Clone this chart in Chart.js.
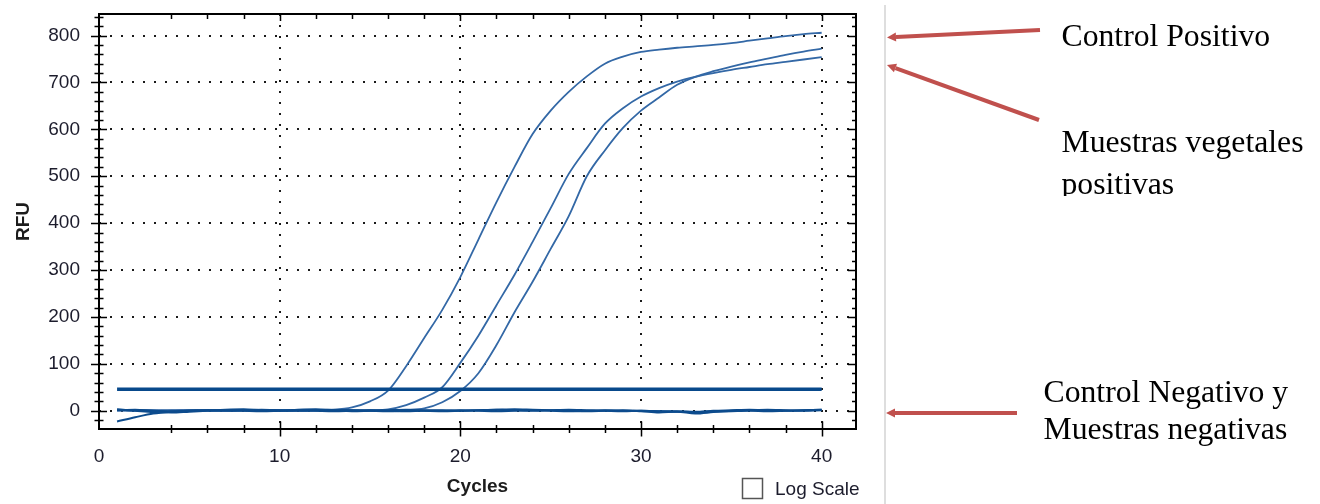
<!DOCTYPE html>
<html>
<head>
<meta charset="utf-8">
<script src="https://cdn.jsdelivr.net/npm/chart.js@4.4.1/dist/chart.umd.min.js"></script>
<style>
  html, body { margin: 0; padding: 0; background: #fff; }
  canvas { display: block; }
</style>
</head>
<body>
<canvas id="pcrChart" width="1320" height="504" style="width:1320px;height:504px"></canvas>
<script>
// amplification data (RFU per cycle)
const cycles = [1, 2, 3, 4, 5, 6, 7, 8, 9, 10, 11, 12, 13, 14, 15, 16, 17, 18, 19, 20,
                21, 22, 23, 24, 25, 26, 27, 28, 29, 30, 31, 32, 33, 34, 35, 36, 37, 38, 39, 40];

const positiveControl = [2, 1, 0, 0, 1, 1, 0, 1, 1, 0, 1, 1, 2, 7, 20, 43, 95, 155, 215, 285,
                         365, 445, 520, 590, 640, 680, 713, 740, 755, 765, 770, 774, 777, 780, 784, 789, 794, 799, 803, 806];
const sampleA = [1, 0, 0, 1, 1, 0, 1, 0, 1, 1, 0, 1, 1, 0, 1, 3, 12, 28, 50, 102,
                 160, 225, 290, 360, 432, 505, 560, 612, 645, 670, 688, 702, 712, 720, 727, 733, 739, 744, 749, 754];
const sampleB = [0, 1, 1, 0, 1, 1, 0, 1, 0, 1, 1, 0, 1, 1, 0, 1, 2, 5, 18, 42,
                 80, 140, 210, 275, 345, 415, 500, 555, 603, 640, 668, 695, 712, 724, 734, 743, 751, 759, 766, 772];
const negative1 = [-23, -14, -6, -2, 0, 1, 0, 1, 2, 1, 0, 1, 2, 1, 0, -1, 0, 1, 1, 0,
                   1, 2, 1, 0, 1, 2, 1, 0, -1, 0, -1, -2, -3, -2, -1, 0, -1, 0, 1, 2];
const negative2 = [3, 0, -3, -4, -2, 0, 2, 3, 1, 0, 2, 3, 1, -1, 0, 1, 2, 0, -1, 0,
                   1, 2, 3, 2, 1, 0, -1, 0, 1, -1, -4, -2, -6, -3, 0, 1, 2, 1, 0, 1];
const negative3 = [1, 2, 0, -1, 0, 1, 1, 0, -1, 0, 1, 0, -1, 0, 1, 0, -1, 0, 0, 1,
                   0, -1, 0, 1, 0, -1, 0, 1, 0, 0, -1, -1, -2, 0, 1, 2, 1, 0, 1, 2];
const threshold = 46;

const xLabels = [0, 10, 20, 30, 40];
const yLabels = [0, 100, 200, 300, 400, 500, 600, 700, 800];

const toPoints = vals => cycles.map((c, i) => ({ x: c, y: vals[i] }));

const curveColor = '#3368a6';
const baseColor = '#0c4b8d';

// frame, minor ticks, arrows and side notes
const overlay = {
    id: 'overlay',
    afterDraw(chart) {
        const { ctx, chartArea: a, scales: { x, y } } = chart;
        ctx.save();

        ctx.strokeStyle = '#000';
        ctx.lineWidth = 2;
        ctx.strokeRect(a.left, a.top, a.right - a.left, a.bottom - a.top);

        ctx.lineWidth = 1.5;
        ctx.beginPath();
        for (let v = -20; v <= 840; v += 20) {
            const py = Math.round(y.getPixelForValue(v)) + 0.5;
            const major = v % 100 === 0;
            const l = major ? 8 : 4.5;
            ctx.moveTo(a.left - l, py); ctx.lineTo(a.left + l, py);
            ctx.moveTo(a.right, py); ctx.lineTo(a.right - (major ? 8 : 4), py);
        }
        for (let c = 4; c <= 40; c += 2) {
            const px = Math.round(x.getPixelForValue(c)) + 0.5;
            const major = c % 10 === 0;
            const l = major ? 7.5 : 4;
            ctx.moveTo(px, a.bottom - l); ctx.lineTo(px, a.bottom + l);
            ctx.moveTo(px, a.top); ctx.lineTo(px, a.top + (major ? 7 : 5));
        }
        ctx.stroke();

        // Log Scale checkbox
        ctx.strokeStyle = '#555';
        ctx.lineWidth = 1.5;
        ctx.strokeRect(742.5, 478.5, 20, 20);
        ctx.fillStyle = '#1c1c2c';
        ctx.font = '19px "Liberation Sans", Arial, sans-serif';
        ctx.textBaseline = 'alphabetic';
        ctx.fillText('Log Scale', 775, 495);

        // divider
        ctx.strokeStyle = '#dedede';
        ctx.lineWidth = 2;
        ctx.beginPath();
        ctx.moveTo(885, 5); ctx.lineTo(885, 504);
        ctx.stroke();

        // arrows
        const arrow = (x1, y1, x2, y2) => {
            const ang = Math.atan2(y2 - y1, x2 - x1);
            const hl = 9, hw = 4.5;
            const bx = x2 - hl * Math.cos(ang), by = y2 - hl * Math.sin(ang);
            ctx.strokeStyle = '#c0504d';
            ctx.fillStyle = '#c0504d';
            ctx.lineWidth = 4;
            ctx.beginPath();
            ctx.moveTo(x1, y1); ctx.lineTo(bx, by);
            ctx.stroke();
            ctx.beginPath();
            ctx.moveTo(x2, y2);
            ctx.lineTo(bx + hw * Math.sin(ang), by - hw * Math.cos(ang));
            ctx.lineTo(bx - hw * Math.sin(ang), by + hw * Math.cos(ang));
            ctx.closePath();
            ctx.fill();
        };
        arrow(1040, 30, 887, 37.5);
        arrow(1039, 120, 887, 65);
        arrow(1017, 413, 886, 413);

        // notes
        ctx.fillStyle = '#000';
        ctx.font = '31.7px "Liberation Serif", "Times New Roman", serif';
        ctx.fillText('Control Positivo', 1061.5, 45.5);
        ctx.fillText('Muestras vegetales', 1061.5, 151.5);
        ctx.save();
        ctx.beginPath();
        ctx.rect(1040, 160, 280, 36);
        ctx.clip();
        ctx.fillText('positivas', 1061.5, 194);
        ctx.restore();
        ctx.fillText('Control Negativo y', 1043.5, 401.5);
        ctx.fillText('Muestras negativas', 1043.5, 439);

        ctx.restore();
    }
};

const lineSet = (vals, color, width) => ({
    data: toPoints(vals),
    borderColor: color,
    borderWidth: width,
    pointRadius: 0,
    cubicInterpolationMode: 'monotone',
    fill: false
});

new Chart(document.getElementById('pcrChart'), {
    type: 'line',
    data: {
        datasets: [
            lineSet(negative1, baseColor, 2),
            lineSet(negative2, baseColor, 2),
            lineSet(negative3, baseColor, 2),
            {
                data: [{ x: cycles[0], y: threshold }, { x: cycles[cycles.length - 1], y: threshold }],
                borderColor: '#08498b',
                borderWidth: 3.5,
                pointRadius: 0
            },
            lineSet(positiveControl, curveColor, 1.8),
            lineSet(sampleA, curveColor, 1.8),
            lineSet(sampleB, curveColor, 1.8)
        ]
    },
    options: {
        responsive: false,
        animation: false,
        events: [],
        layout: { padding: { left: 0, top: 14, right: 464, bottom: 0 } },
        plugins: { legend: { display: false }, tooltip: { enabled: false } },
        scales: {
            x: {
                type: 'linear',
                min: 0,
                max: 41.9,
                afterFit: s => { s.height = 75; s.paddingLeft = 0; s.paddingRight = 0; },
                afterBuildTicks: s => { s.ticks = xLabels.map(v => ({ value: v })); },
                border: { display: false, dash: [2, 9] },
                grid: {
                    drawTicks: false,
                    color: c => (c.tick && c.tick.value === 0) ? 'rgba(0,0,0,0)' : '#1a1a1a',
                    lineWidth: 2
                },
                ticks: {
                    padding: 16,
                    maxRotation: 0,
                    color: '#1c1c2c',
                    font: { family: "'Liberation Sans', Arial, sans-serif", size: 19 }
                },
                title: {
                    display: true,
                    text: 'Cycles',
                    color: '#1c1c1c',
                    padding: { top: 0, bottom: 6 },
                    font: { family: "'Liberation Sans', Arial, sans-serif", size: 19, weight: 'bold' }
                }
            },
            y: {
                min: -39,
                max: 846,
                afterFit: s => { s.width = 99; s.paddingTop = 0; s.paddingBottom = 0; },
                afterBuildTicks: s => { s.ticks = yLabels.map(v => ({ value: v })); },
                border: { display: false, dash: [2, 9] },
                grid: {
                    drawTicks: false,
                    color: '#1a1a1a',
                    lineWidth: 2
                },
                ticks: {
                    padding: 19,
                    color: '#1c1c2c',
                    font: { family: "'Liberation Sans', Arial, sans-serif", size: 19 }
                },
                title: {
                    display: true,
                    text: 'RFU',
                    color: '#1c1c1c',
                    padding: { top: 12, bottom: 0 },
                    font: { family: "'Liberation Sans', Arial, sans-serif", size: 19, weight: 'bold' }
                }
            }
        }
    },
    plugins: [overlay]
});
</script>
</body>
</html>
